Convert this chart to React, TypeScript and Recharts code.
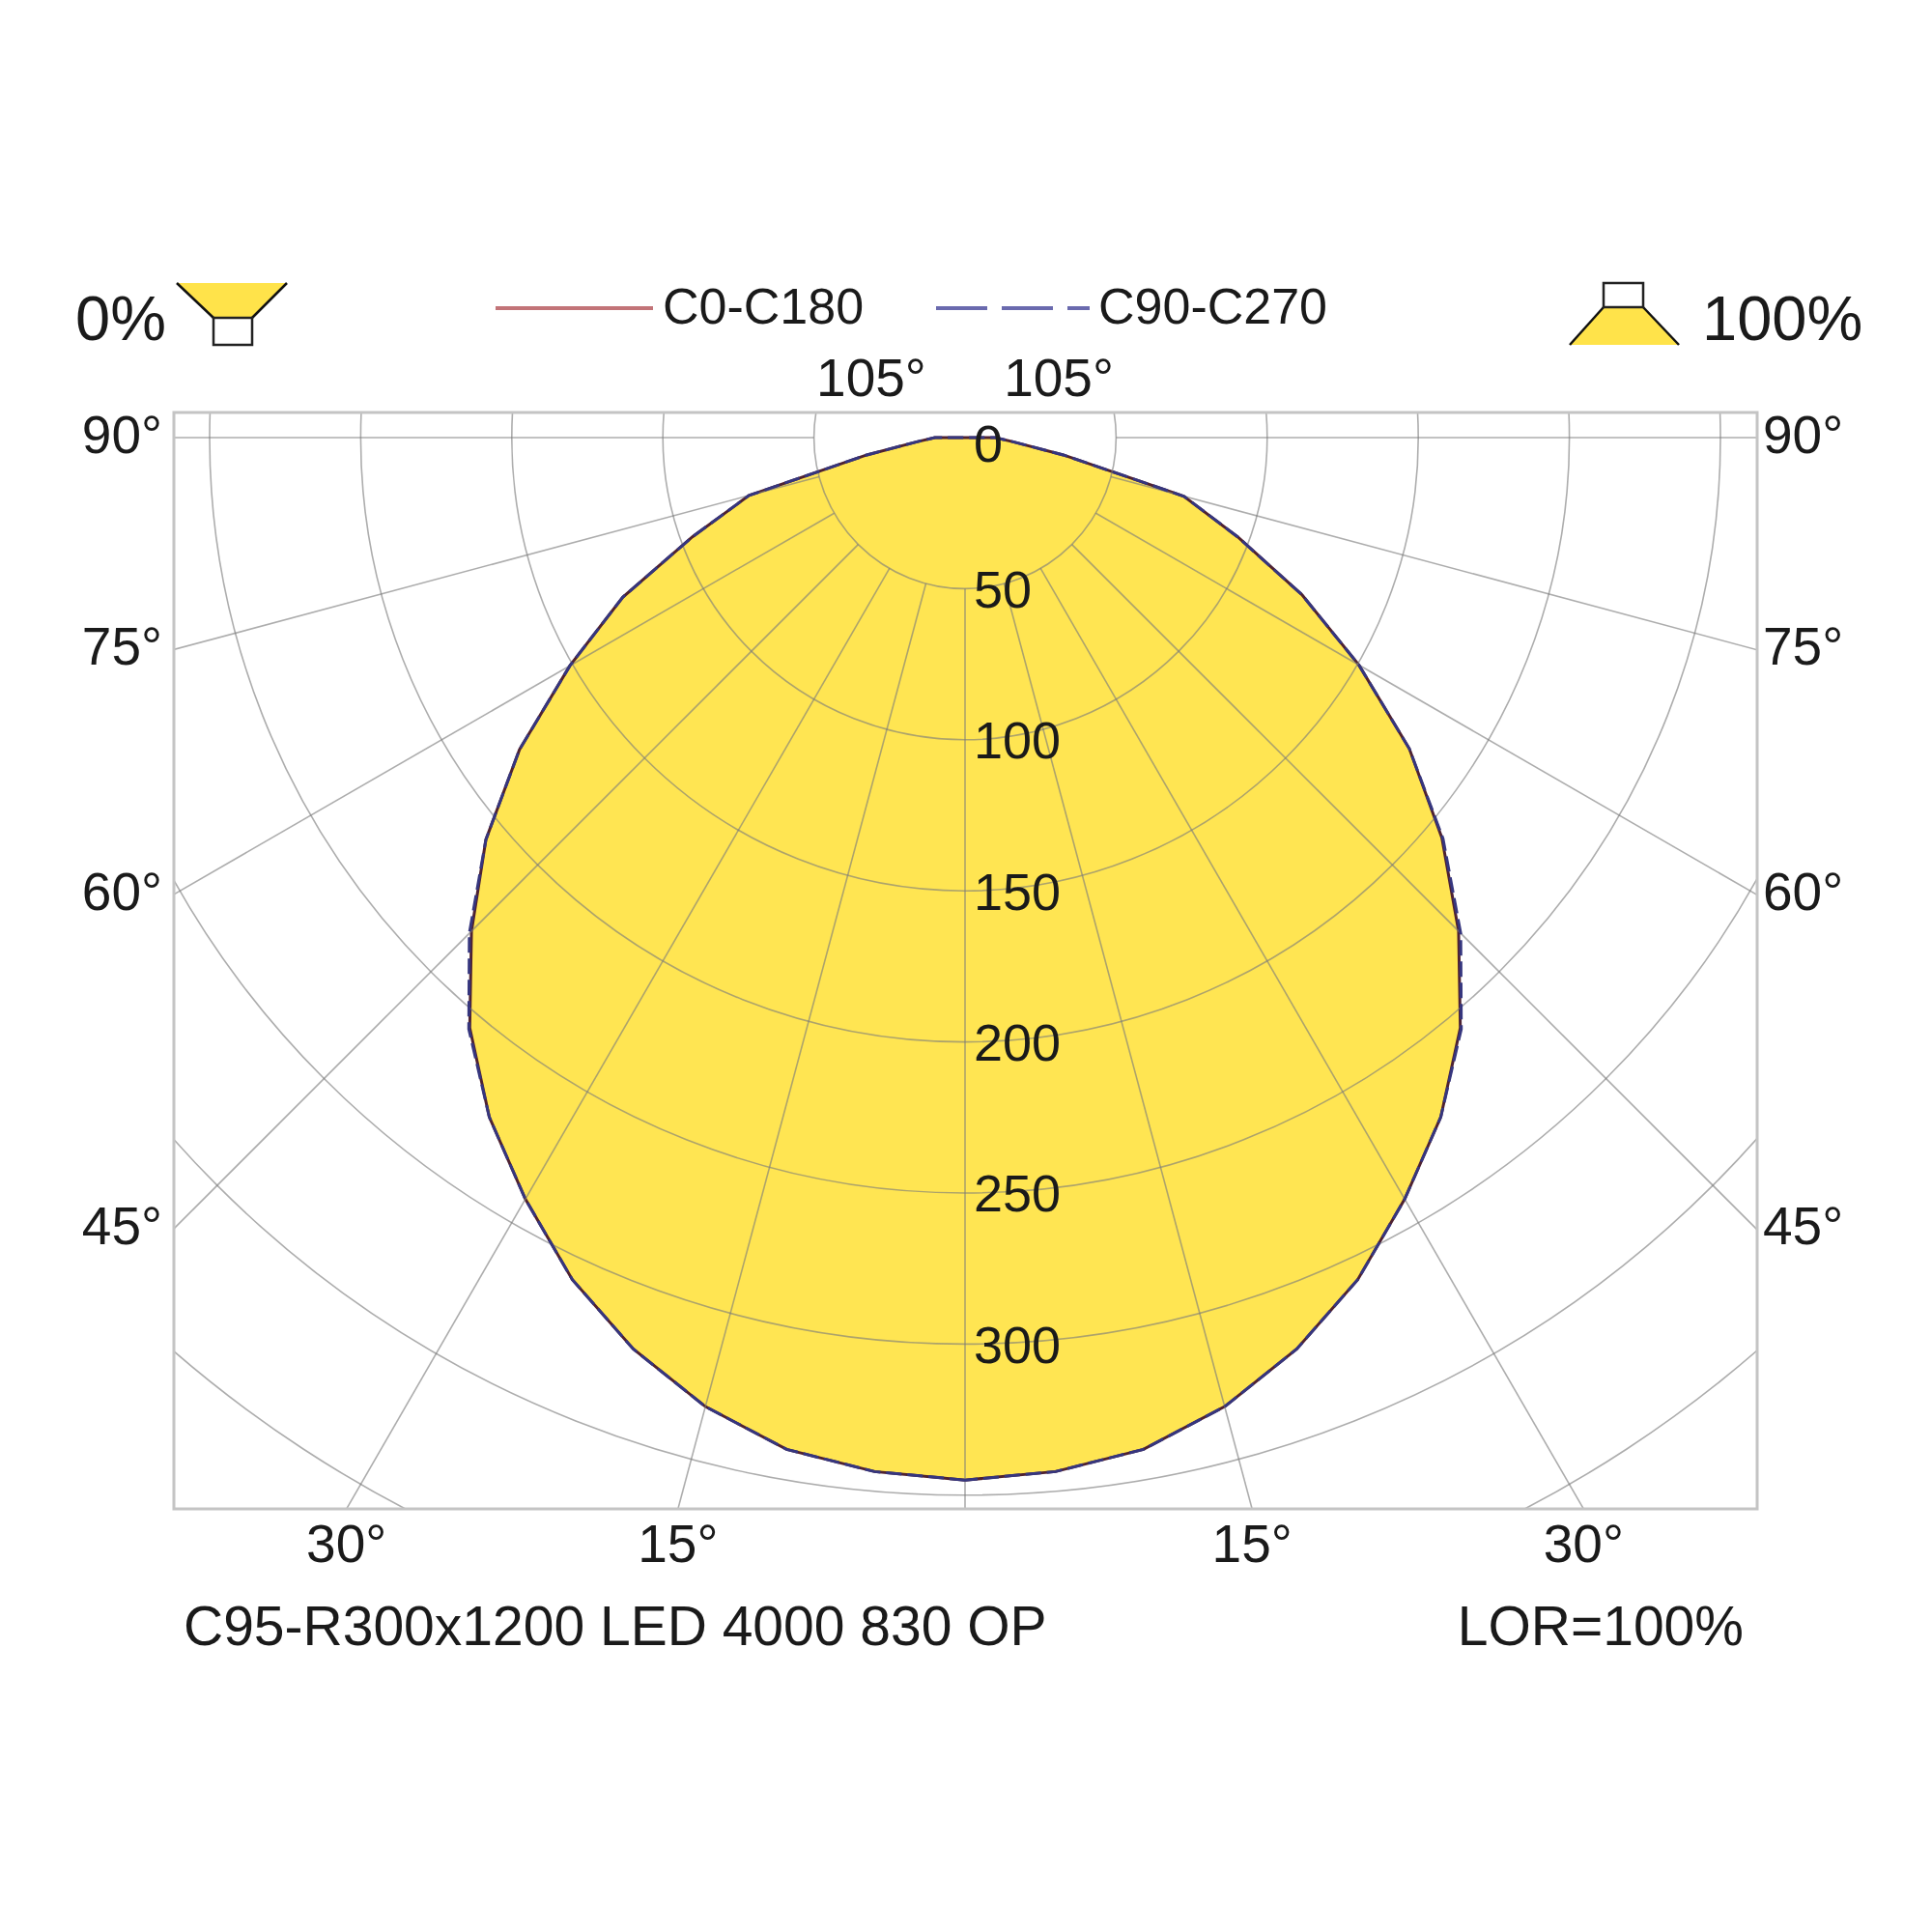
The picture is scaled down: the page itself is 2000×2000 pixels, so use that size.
import React from 'react';
import { RadarChart, Radar, PolarGrid, PolarAngleAxis, PolarRadiusAxis } from 'recharts';

// gamma angles of one half plane, nadir (0) to zenith (180)
const GAMMA = [0, 5, 10, 15, 20, 25, 30, 35, 40, 45, 50, 55, 60, 65, 70, 75, 80, 85, 90,
    95, 100, 105, 110, 115, 120, 125, 130, 135, 140, 145, 150, 155, 160, 165, 170, 175, 180];

// cd/klm
const C0 = [345, 343.5, 340, 332, 321, 307.5, 291, 274.5, 255, 231, 206, 179.5, 150.5, 123, 96, 75, 33, 16, 10,
    0, 0, 0, 0, 0, 0, 0, 0, 0, 0, 0, 0, 0, 0, 0, 0, 0, 0];
const C180 = [345, 343.5, 340, 332, 321, 307.5, 291, 274.5, 255, 231, 207, 180, 151, 125, 96, 74, 33, 16, 10,
    0, 0, 0, 0, 0, 0, 0, 0, 0, 0, 0, 0, 0, 0, 0, 0, 0, 0];
const C90 = [345, 343.5, 340, 332, 321, 307.5, 291, 274.5, 255.5, 232, 206.5, 179.5, 150.5, 123, 96, 75, 33, 16, 10,
    0, 0, 0, 0, 0, 0, 0, 0, 0, 0, 0, 0, 0, 0, 0, 0, 0, 0];
const C270 = [345, 343.5, 340, 332, 321, 307.5, 291, 274.5, 255.5, 232, 207, 180, 151, 125, 96, 74, 33, 16, 10,
    0, 0, 0, 0, 0, 0, 0, 0, 0, 0, 0, 0, 0, 0, 0, 0, 0, 0];

const RING_TICKS = [0, 50, 100, 150, 200, 250, 300, 350, 400];
const LABELLED_RINGS = [0, 50, 100, 150, 200, 250, 300];
const SPOKES = [0, 15, 30, 45, 60, 75, 90, 105];
const SIDE_LABELS = [90, 75, 60, 45];
const BOTTOM_LABELS = [30, 15];
const TOP_LABELS = [105];

const SERIES_A = 'C0-C180';
const SERIES_B = 'C90-C270';
const TITLE = 'C95-R300x1200 LED 4000 830 OP';
const LOR = 'LOR=100%';

const FONT = '"Liberation Sans", Arial, Helvetica, sans-serif';
const INK = '#1a1a1a';
const YELLOW = '#FFE552';

// plot frame in page pixels
const LEFT = 180;
const TOP = 427;
const RIGHT = 1819;
const BOTTOM = 1562;
const CX = 999;
const CY = 453;
const PX_PER_50 = 156.4;

// left half runs nadir -> zenith, right half comes back down
const table: { key: string; a: number; b: number }[] = [];
for (let i = 0; i < GAMMA.length; i++) {
    table.push({ key: 'L' + GAMMA[i], a: C180[i], b: C270[i] });
}
for (let i = GAMMA.length - 2; i >= 1; i--) {
    table.push({ key: 'R' + GAMMA[i], a: C0[i], b: C90[i] });
}

const spokeAngles: number[] = [];
SPOKES.forEach(g => {
    spokeAngles.push(-90 - g);
    if (g !== 0) spokeAngles.push(-90 + g);
});

const rad = (d: number) => (d * Math.PI) / 180;

function RadiusTick(props: any) {
    const { x, y, payload } = props;
    if (!LABELLED_RINGS.includes(payload.value)) return <g />;
    // the 0 sits on the frame edge, nudge it inside
    const yy = payload.value === 0 ? y + 6 : y;
    return (
        <text x={x + 9} y={yy} dy="0.36em" fontSize={54} fontFamily={FONT} fill={INK} textAnchor="start">
            {payload.value}
        </text>
    );
}

function Polar({ children }: { children: React.ReactNode }) {
    const w = RIGHT - LEFT;
    const h = BOTTOM - TOP;
    return (
        <div style={{ position: 'absolute', left: LEFT, top: TOP, width: w, height: h, overflow: 'hidden' }}>
            <RadarChart
                width={w}
                height={h}
                data={table}
                cx={CX - LEFT}
                cy={CY - TOP}
                innerRadius={PX_PER_50}
                outerRadius={PX_PER_50 * 9}
                startAngle={-90}
                endAngle={-450}
                margin={{ top: 0, right: 0, bottom: 0, left: 0 }}
            >
                {children}
            </RadarChart>
        </div>
    );
}

export default function App() {
    const w = RIGHT - LEFT;
    const h = BOTTOM - TOP;
    const txt = { fontFamily: FONT, fill: INK };

    return (
        <div style={{ position: 'absolute', left: 0, top: 0, width: 2000, height: 2000, background: '#fff' }}>
            {/* filled C0-C180 body underneath */}
            <Polar>
                <PolarAngleAxis dataKey="key" type="category" tick={false} tickLine={false} axisLine={false} />
                <PolarRadiusAxis angle={-90} type="number" domain={[50, 450]} allowDataOverflow ticks={RING_TICKS}
                    axisLine={false} tick={false} />
                <Radar
                    name={SERIES_A}
                    dataKey="a"
                    stroke="#4e2232"
                    strokeWidth={3}
                    fill={YELLOW}
                    fillOpacity={1}
                    dot={false}
                    isAnimationActive={false}
                />
            </Polar>

            {/* grid, labels and dashed C90-C270 on top */}
            <Polar>
                <PolarAngleAxis dataKey="key" type="category" tick={false} tickLine={false} axisLine={false} />
                <PolarRadiusAxis angle={-90} type="number" domain={[50, 450]} allowDataOverflow ticks={RING_TICKS}
                    axisLine={false} tick={RadiusTick} />
                <PolarGrid
                    gridType="circle"
                    polarAngles={spokeAngles}
                    stroke="#7a7a7a"
                    strokeOpacity={0.62}
                    strokeWidth={1.6}
                />
                <Radar
                    name={SERIES_B}
                    dataKey="b"
                    stroke="#36367e"
                    strokeWidth={3}
                    strokeDasharray="16 6"
                    fill="none"
                    fillOpacity={0}
                    dot={false}
                    isAnimationActive={false}
                />
            </Polar>

            <svg width={2000} height={2000} style={{ position: 'absolute', left: 0, top: 0, pointerEvents: 'none' }}>
                <rect x={LEFT} y={TOP} width={w} height={h} fill="none" stroke="#c4c4c4" strokeWidth={3} />

                {/* downlight / uplight icons */}
                <text x={78} y={352} fontSize={65} {...txt}>0%</text>
                <polygon points="183,293 297,293 261,329 221,329" fill="#FFE34A" />
                <line x1={183} y1={293} x2={221} y2={329} stroke="#111" strokeWidth={2.5} />
                <line x1={297} y1={293} x2={261} y2={329} stroke="#111" strokeWidth={2.5} />
                <rect x={221} y={329} width={40} height={28} fill="#fff" stroke="#222" strokeWidth={2.5} />

                <polygon points="1660,318 1701,318 1738,357 1625,357" fill="#FFE34A" />
                <line x1={1660} y1={318} x2={1625} y2={357} stroke="#111" strokeWidth={2.5} />
                <line x1={1701} y1={318} x2={1738} y2={357} stroke="#111" strokeWidth={2.5} />
                <rect x={1660} y={293} width={41} height={25} fill="#fff" stroke="#222" strokeWidth={2.5} />
                <text x={1762} y={352} fontSize={65} {...txt}>100%</text>

                {/* legend */}
                <line x1={513} y1={319} x2={676} y2={319} stroke="#c27478" strokeWidth={4} />
                <text x={686} y={335} fontSize={52} {...txt}>{SERIES_A}</text>
                <line x1={969} y1={319} x2={1128} y2={319} stroke="#6a6aae" strokeWidth={4} strokeDasharray="53 15" />
                <text x={1137} y={335} fontSize={52} {...txt}>{SERIES_B}</text>

                {TOP_LABELS.map(g => {
                    const dx = (CY - TOP) / Math.tan(rad(g - 90));
                    return (
                        <g key={'t' + g}>
                            <text x={CX - dx} y={410} fontSize={55} textAnchor="middle" {...txt}>{g}°</text>
                            <text x={CX + dx} y={410} fontSize={55} textAnchor="middle" {...txt}>{g}°</text>
                        </g>
                    );
                })}

                {SIDE_LABELS.map(g => {
                    const y = CY + (CX - LEFT) / Math.tan(rad(g)) - 4;
                    return (
                        <g key={'s' + g}>
                            <text x={LEFT - 12} y={y} dy="0.36em" fontSize={55} textAnchor="end" {...txt}>{g}°</text>
                            <text x={RIGHT + 6} y={y} dy="0.36em" fontSize={55} textAnchor="start" {...txt}>{g}°</text>
                        </g>
                    );
                })}

                {BOTTOM_LABELS.map(g => {
                    const dx = (BOTTOM - CY) * Math.tan(rad(g));
                    return (
                        <g key={'b' + g}>
                            <text x={CX - dx} y={1617} fontSize={55} textAnchor="middle" {...txt}>{g}°</text>
                            <text x={CX + dx} y={1617} fontSize={55} textAnchor="middle" {...txt}>{g}°</text>
                        </g>
                    );
                })}

                <text x={190} y={1703} fontSize={57} {...txt}>{TITLE}</text>
                <text x={1805} y={1703} fontSize={57} textAnchor="end" {...txt}>{LOR}</text>
            </svg>
        </div>
    );
}
